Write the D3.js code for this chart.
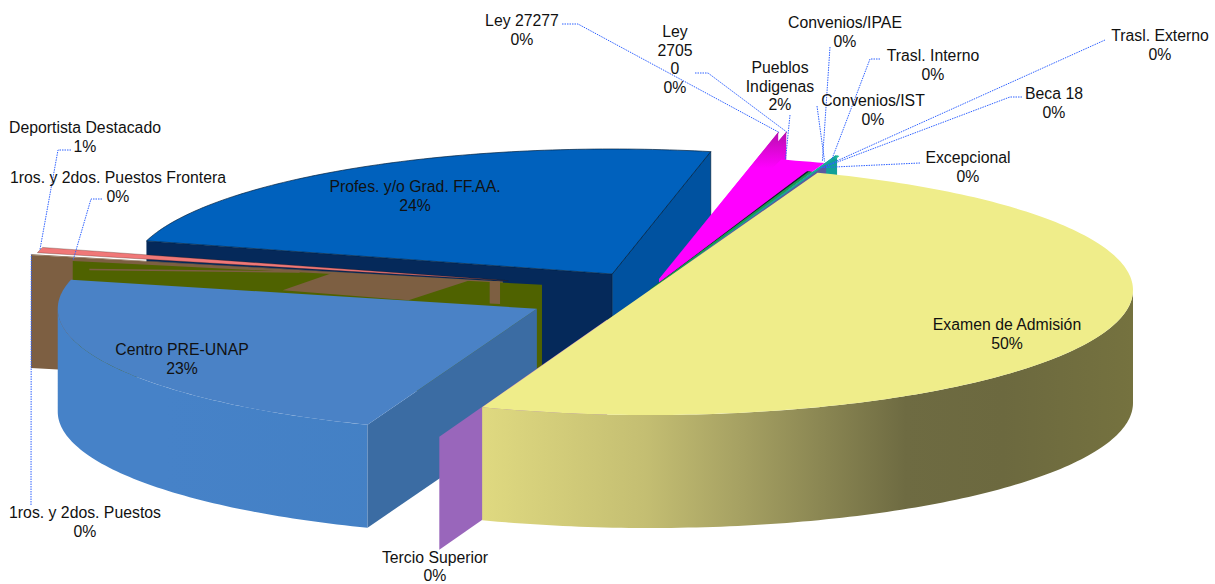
<!DOCTYPE html>
<html><head><meta charset="utf-8">
<script src="https://cdn.jsdelivr.net/npm/d3@7"></script>
<style>html,body{margin:0;padding:0;background:#fff}svg{display:block}</style>
</head><body><div id="c"></div>
<script>
// ---- data ----
const categories=["Examen de Admisión","Tercio Superior","Centro PRE-UNAP","1ros. y 2dos. Puestos","1ros. y 2dos. Puestos Frontera","Deportista Destacado","Profes. y/o Grad. FF.AA.","Ley 27277","Ley 27050","Pueblos Indigenas","Convenios/IPAE","Convenios/IST","Trasl. Interno","Trasl. Externo","Beca 18","Excepcional"];
const values=[50,0.1,23,0.1,0.1,0.7,24,0.03,0.03,1.5,0.07,0.07,0.07,0.07,0.07,0.07];
const percentLabels=["50%","0%","23%","0%","0%","1%","24%","0%","0%","2%","0%","0%","0%","0%","0%","0%"];
const labelLines=[["Examen de Admisión"],["Tercio Superior"],["Centro PRE-UNAP"],["1ros. y 2dos. Puestos"],["1ros. y 2dos. Puestos Frontera"],["Deportista Destacado"],["Profes. y/o Grad. FF.AA."],["Ley 27277"],["Ley","2705","0"],["Pueblos","Indigenas"],["Convenios/IPAE"],["Convenios/IST"],["Trasl. Interno"],["Trasl. Externo"],["Beca 18"],["Excepcional"]];
// ---- layout ----
const W=1215,H=584,cx=650,cy=290,ra=483,rb=125,startDeg=20.3;
const explodeX=[0,.253,.265,.312,.228,.303,.15,.09,.09,.078,0,0,.14,.14,.066,.14];
const explodeY=[0,.253,.32,.312,.219,.303,.15,.09,.09,.078,0,0,.14,.14,.066,.14];
const radiusK=[1,1,.992,1,.99,1,1,1.2,1.205,1,1,1,1,1,1,1];
const shiftDeg=[0,0,0,-1.2,-2.8,-1.3,-1.4,-1.3,-.7,1,.2,.2,.4,.3,.2,-.4];
const depthPx=[113,113,103,113,113,113,110,110,110,20,4,4,22,22,12,22];
const topFill=["#efed8a","#9966bb","#4a82c6","#7d5f42","#4a6000","#f07878","#0061bd","url(#gm)","url(#gm)","#ff00ff","#14202a","#1a9a50","#17b08c","#2cc09a","#5a5aa0","#17a89c"];
const outerFill=["url(#gy)","#9966bb","url(#gc)","#7d5f42","#4a6000","#f07878","#0052a0","#d000c0","#d000c0","#ff00ff","#14202a","#1a9a50","#12a098","#12a098","#5a5aa0","#12a098"];
const startFill=["none","#9966bb","#3b6ca3","#7d5f42","#4f6200","none","#05295a","url(#gm)","url(#gm)","none","none","none","#12a098","#12a098","#5a5aa0","#12a098"];
const endFill=["none","none","none","none","none","none","#0052a0","none","none","none","none","none","none","none","none","none"];
const labelX=[1007,435,182,85,118,85,415,522,675,780,845,873,933,1160,1054,968];
const labelY=[326,558.5,351,514,179,129,188,22,33,69,24,102,57,37,95,159];
const lineH=18.5;
// leader: fixed start points beside the label text; end resolved on the slice [angle fraction, radial fraction]
const leaderStart={3:[[31,505]],4:[[102,199],[91,199]],5:[[71,150],[58,150]],7:[[562,24],[578,24]],8:[[695,73],[708,73]],9:[[790,115]],10:[[830,47]],11:[[817,106]],12:[[880,59],[870,59]],13:[[1105,40]],14:[[1022,97],[1010,97]],15:[[920,163]]};
const leaderEnd={3:[.5,1],4:[.5,1],5:[.5,1],7:[.5,1],8:[.5,1],9:[.1,1],10:[.5,1.09],11:[.5,1.09],12:[.5,.97],13:[.5,.9],14:[.5,.98],15:[.5,.9]};
// ---- scales ----
const xS=d3.scaleLinear().domain([-1,1]).range([cx-ra,cx+ra]);
const yS=d3.scaleLinear().domain([-1,1]).range([cy-rb,cy+rb]);
const rad=d=>d*Math.PI/180;
const arcs=d3.pie().sort(null).value(d=>d).startAngle(rad(startDeg)).endAngle(rad(startDeg+360))(values);
const slices=arcs.map((a,i)=>{
  const s=rad(shiftDeg[i]),t0=a.startAngle+s,t1=a.endAngle+s,m=(t0+t1)/2;
  const ax=explodeX[i]*Math.sin(m),ay=-explodeY[i]*Math.cos(m);
  const k=radiusK[i];
  const pt=(t,f=1,h=0)=>[xS(ax+k*f*Math.sin(t)),yS(ay-k*f*Math.cos(t))+h];
  return {i,t0,t1,m,pt,depth:depthPx[i]};
});
const line=d3.line();
const arcPts=(s,a,b,h)=>{const n=Math.max(2,Math.ceil((b-a)/rad(1)));return d3.range(n+1).map(j=>s.pt(a+(b-a)*j/n,1,h));};
const pathTop=s=>line([s.pt(s.m,0),...arcPts(s,s.t0,s.t1,0)])+"Z";
const pathOuter=s=>{const a=Math.max(s.t0,Math.PI/2),b=Math.min(s.t1,1.5*Math.PI);if(b<=a)return "";return line([...arcPts(s,a,b,0),...arcPts(s,a,b,s.depth).reverse()])+"Z";};
const pathRad=(s,t)=>line([s.pt(s.m,0),s.pt(t,1),s.pt(t,1,s.depth),s.pt(s.m,0,s.depth)])+"Z";
// crossing sliver pieces on the brown face, as [radial fraction, depth fraction]
const brownPieces=[
 [[.467,.188],[.357,.004],[.07,.005],[.2,.213]],
 [[.028,0],[.006,0],[.006,.2],[.028,.2]],
 [[.877,.097],[.431,.012],[.431,.026],[.877,.11]]];
// ---- draw ----
const svg=d3.select("#c").append("svg").attr("width",W).attr("height",H);
const defs=svg.append("defs");
function grad(id,x1,y1,x2,y2,stops){const g=defs.append("linearGradient").attr("id",id).attr("gradientUnits","userSpaceOnUse").attr("x1",x1).attr("y1",y1).attr("x2",x2).attr("y2",y2);
 g.selectAll("stop").data(stops).join("stop").attr("offset",d=>d[0]).attr("stop-color",d=>d[1]);}
grad("gy",cx-ra+316,0,cx+ra,0,[[0,"#dfd980"],[.25,"#c4be72"],[.4,"#a5a062"],[.65,"#6e6b42"],[.8,"#6c693f"],[1,"#75723f"]]);
grad("gc",cx-ra,0,cx-60,0,[[0,"#4682c8"],[.6,"#4380c4"],[1,"#3d78ba"]]);
grad("gm",0,130,0,168,[[0,"#b010a8"],[.45,"#d808d0"],[1,"#ff00ff"]]);
const parts=[];
const add=(d,fill,stroke,sw)=>{if(d&&fill!=="none")parts.push({d,fill,stroke:stroke||"none",sw:sw||0});};
const S=slices;
// back group
add(pathRad(S[6],S[6].t0),startFill[6]);
add(pathRad(S[6],S[6].t1),endFill[6],"#02213f",.7);
add(pathTop(S[6]),topFill[6],"#02213f",.7);
[7,8].forEach(i=>{add(pathRad(S[i],S[i].t0),startFill[i]);add(pathTop(S[i]),topFill[i]);});
add(pathTop(S[9]),topFill[9]);
[12,13,15].forEach(i=>{add(pathRad(S[i],S[i].t0),startFill[i]);add(pathTop(S[i]),topFill[i],topFill[i],.6);});
add(pathRad(S[14],S[14].t0),startFill[14]);add(pathTop(S[14]),topFill[14]);
[10,11].forEach(i=>add(pathTop(S[i]),topFill[i],topFill[i],1.1));
// thin left group
add(pathTop(S[3]),topFill[3]);
add(pathRad(S[3],S[3].t0),startFill[3]);
add(pathRad(S[4],S[4].t0),startFill[4]);
const b=S[3];
brownPieces.forEach(p=>add(line(p.map(q=>b.pt(b.m,q[0],q[1]*b.depth)))+"Z",startFill[3]));
add(pathTop(S[5]),topFill[5],"#3a1a10",.3);
// front group
add(pathOuter(S[2]),outerFill[2]);
add(pathRad(S[2],S[2].t0),startFill[2]);
add(pathTop(S[2]),topFill[2]);
add(pathRad(S[1],S[1].t0),startFill[1]);
add(pathOuter(S[0]),outerFill[0]);
add(pathTop(S[0]),topFill[0]);
svg.append("g").selectAll("path").data(parts).join("path")
 .attr("d",d=>d.d).attr("fill",d=>d.fill).attr("stroke",d=>d.stroke).attr("stroke-width",d=>d.sw);
// leaders
const leaders=Object.keys(leaderStart).map(k=>{k=+k;const s=S[k],e=leaderEnd[k];const t=s.t0+(s.t1-s.t0)*e[0];return [...leaderStart[k],s.pt(t,e[1])];});
svg.append("g").selectAll("path").data(leaders).join("path").attr("d",d=>line(d)).attr("fill","none")
 .attr("stroke","#2f62ff").attr("stroke-width",1).attr("stroke-dasharray","1.5 1");
// labels
const lab=svg.append("g").attr("font-family","'Liberation Sans',Arial,sans-serif").attr("font-size","15.8px").attr("fill","#111");
categories.forEach((c,i)=>{
  const ls=[...labelLines[i],percentLabels[i]];
  ls.forEach((t,j)=>lab.append("text").attr("x",labelX[i]).attr("y",labelY[i]+j*lineH).attr("text-anchor","middle").attr("dominant-baseline","middle").text(t));
});
</script></body></html>
